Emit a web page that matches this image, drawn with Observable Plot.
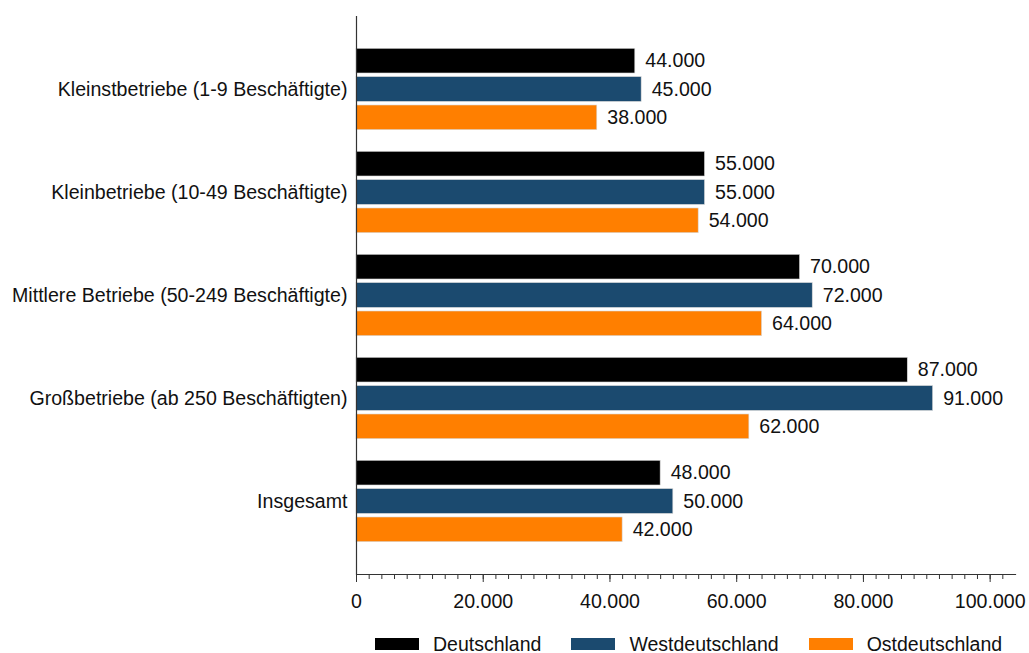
<!DOCTYPE html>
<html>
<head>
<meta charset="utf-8">
<script src="https://cdn.jsdelivr.net/npm/d3@7"></script>
<script src="https://cdn.jsdelivr.net/npm/@observablehq/plot@0.6"></script>
<style>
  html, body { margin: 0; background: #fff; font-family: "Liberation Sans", Arial, sans-serif; overflow: hidden; }
  #wrap { position: relative; width: 1029px; height: 653px; }
  #legend { position: absolute; left: 375px; top: 635px; display: flex; align-items: center; height: 18px; line-height: 18px; font-size: 19.5px; color: #111; }
  .item { display: flex; align-items: center; margin-right: 30px; }
  .sw { width: 44px; height: 12px; margin-right: 14px; }
</style>
</head>
<body>
<div id="wrap">
<div id="chart"></div>
<div id="legend"></div>
</div>
<script>
const categories = [
  "Kleinstbetriebe (1-9 Beschäftigte)",
  "Kleinbetriebe (10-49 Beschäftigte)",
  "Mittlere Betriebe (50-249 Beschäftigte)",
  "Großbetriebe (ab 250 Beschäftigten)",
  "Insgesamt"
];
const seriesNames = ["Deutschland", "Westdeutschland", "Ostdeutschland"];
const seriesColors = ["#000000", "#1b4a6f", "#ff7f00"];
const deutschland = [44000, 55000, 70000, 87000, 48000];
const westdeutschland = [45000, 55000, 72000, 91000, 50000];
const ostdeutschland = [38000, 54000, 64000, 62000, 42000];
const majorTicks = [0, 20000, 40000, 60000, 80000, 100000];
const minorTicks = d3.range(0, 102001, 2000);

const values = [deutschland, westdeutschland, ostdeutschland];
const fmt = d3.formatLocale({decimal: ",", thousands: ".", grouping: [3], currency: ["", "€"]}).format(",d");
const FS = 19.6;

// layout of the three bars within each category band (band ≈ 85px)
const insets = [[1.3, 58], [29.6, 29.6], [58, 1.3]];
const labelDy = [-28.3, 0, 28.3];

const marks = [];
values.forEach((vals, i) => {
  const rows = categories.map((c, j) => ({cat: c, value: vals[j]}));
  marks.push(Plot.barX(rows, {
    y: "cat", x: "value", fill: seriesColors[i],
    insetTop: insets[i][0], insetBottom: insets[i][1],
    stroke: "#d8d8d8", strokeWidth: 0.6
  }));
  marks.push(Plot.text(rows, {
    y: "cat", x: "value", text: d => fmt(d.value),
    dx: 10, dy: labelDy[i], textAnchor: "start", fill: "#111", fontSize: FS
  }));
});

marks.push(Plot.axisX({ticks: minorTicks, tickSize: 5, text: null, stroke: "#333"}));
marks.push(Plot.axisX({ticks: majorTicks, tickSize: 8, tickPadding: 12, tickFormat: fmt, stroke: "#333", fill: "#111", fontSize: FS, label: null}));
marks.push(Plot.axisY({tickSize: 0, tickPadding: 9, fill: "#111", fontSize: FS, label: null}));
marks.push(Plot.frame({anchor: "bottom", stroke: "#333", strokeWidth: 1.2}));
marks.push(Plot.ruleX([0], {stroke: "#333", strokeWidth: 1.2}));

const chart = Plot.plot({
  width: 1029,
  height: 625,
  marginLeft: 356,
  marginRight: 14,
  marginTop: 16,
  marginBottom: 51,
  style: {fontFamily: "'Liberation Sans', Arial, sans-serif", fontSize: FS + "px", background: "#fff", overflow: "visible"},
  x: {domain: [0, 104000], label: null},
  y: {domain: categories, paddingInner: 0.181, paddingOuter: 0.279, label: null},
  marks
});
document.getElementById("chart").appendChild(chart);

const legend = document.getElementById("legend");
seriesNames.forEach((n, i) => {
  const it = document.createElement("div");
  it.className = "item";
  const sw = document.createElement("div");
  sw.className = "sw";
  sw.style.background = seriesColors[i];
  const t = document.createElement("span");
  t.textContent = n;
  it.appendChild(sw);
  it.appendChild(t);
  legend.appendChild(it);
});
</script>
</body>
</html>
